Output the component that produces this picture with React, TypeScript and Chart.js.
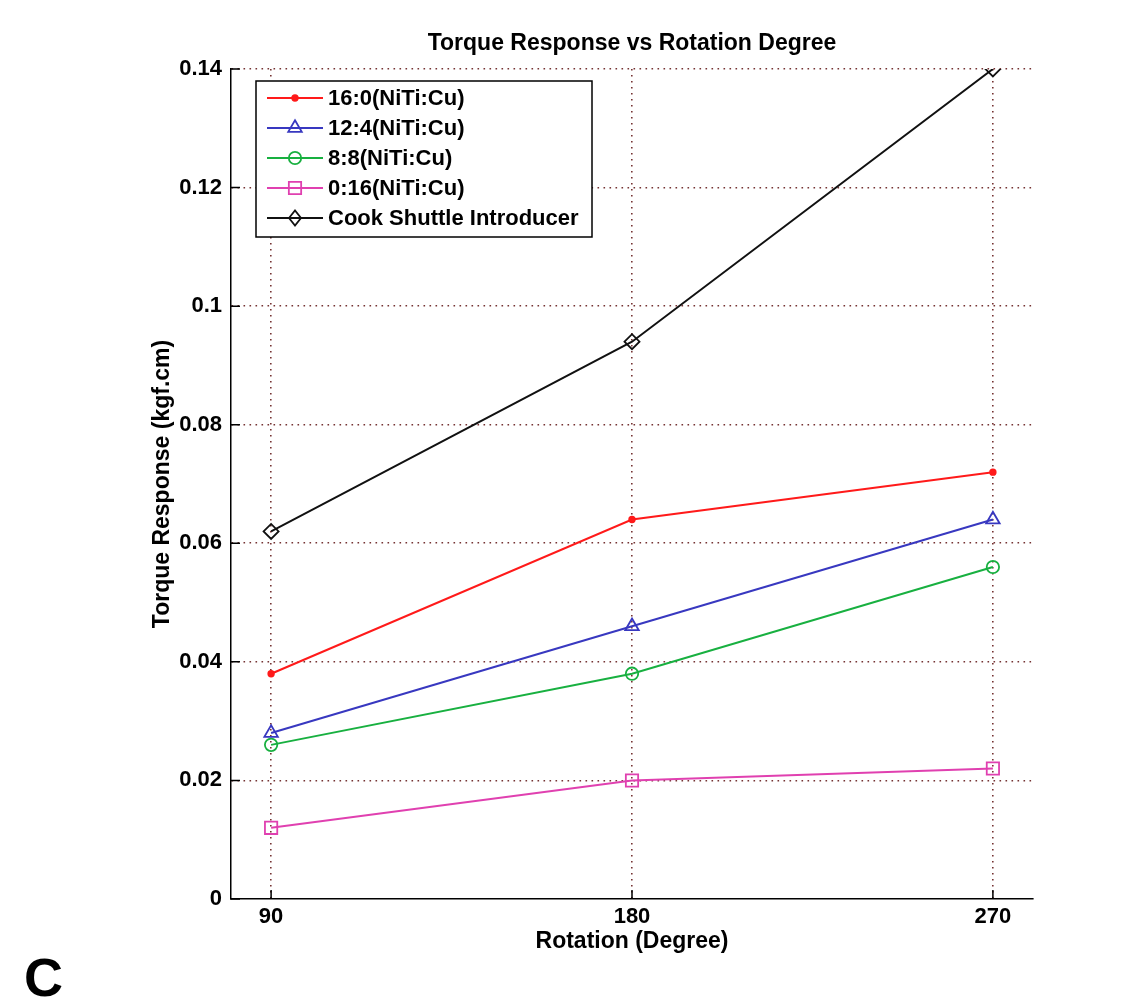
import React, { useEffect, useRef } from "react";
import { Chart, registerables } from "chart.js";

Chart.register(...registerables);

const rotations = [90, 180, 270];
const xTicks = [90, 180, 270];
const seriesLabels = [
  "16:0(NiTi:Cu)",
  "12:4(NiTi:Cu)",
  "8:8(NiTi:Cu)",
  "0:16(NiTi:Cu)",
  "Cook Shuttle Introducer",
];
const s16_0 = [0.038, 0.064, 0.072];
const s12_4 = [0.028, 0.046, 0.064];
const s8_8 = [0.026, 0.038, 0.056];
const s0_16 = [0.012, 0.02, 0.022];
const cook = [0.062, 0.094, 0.14];
const seriesValues = [s16_0, s12_4, s8_8, s0_16, cook];
const seriesColors = ["#ff1a1a", "#3838c0", "#18b040", "#e040b0", "#111111"];
const seriesMarkers = ["circle", "triangle", "circle", "rect", "rectRot"];
const seriesRadius = [2.8, 7.8, 6.2, 8.7, 7.5];
const seriesFilled = [true, false, false, false, false];

const FONT = "'Liberation Sans', Arial, sans-serif";
const GRID = "rgba(110,40,40,0.95)";

function drawMarker(ctx: CanvasRenderingContext2D, style: string, r: number, x: number, y: number, color: string, filled: boolean) {
  ctx.save();
  ctx.strokeStyle = color;
  ctx.fillStyle = color;
  ctx.lineWidth = 1.8;
  ctx.beginPath();
  if (style === "circle") {
    ctx.arc(x, y, r, 0, Math.PI * 2);
  } else if (style === "triangle") {
    for (let i = 0; i < 3; i++) {
      const a = (i * 2 * Math.PI) / 3;
      const px = x + Math.sin(a) * r;
      const py = y - Math.cos(a) * r;
      if (i === 0) ctx.moveTo(px, py);
      else ctx.lineTo(px, py);
    }
  } else if (style === "rect") {
    const s = Math.SQRT1_2 * r;
    ctx.rect(x - s, y - s, 2 * s, 2 * s);
  } else if (style === "rectRot") {
    ctx.moveTo(x - r * 0.8, y);
    ctx.lineTo(x, y - r);
    ctx.lineTo(x + r * 0.8, y);
    ctx.lineTo(x, y + r);
  }
  ctx.closePath();
  if (filled) ctx.fill();
  ctx.stroke();
  ctx.restore();
}

const decorPlugin = {
  id: "decor",
  afterDraw(chart: any) {
    const ctx: CanvasRenderingContext2D = chart.ctx;
    const xs = chart.scales.x;
    const ys = chart.scales.y;
    const area = chart.chartArea;
    ctx.save();
    // inner tick marks (MATLAB style)
    ctx.strokeStyle = "#000";
    ctx.lineWidth = 1.5;
    ctx.beginPath();
    xTicks.forEach((v) => {
      const px = xs.getPixelForValue(v);
      ctx.moveTo(px, area.bottom);
      ctx.lineTo(px, area.bottom - 9);
    });
    ys.ticks.forEach((t: any) => {
      const py = ys.getPixelForValue(t.value);
      ctx.moveTo(area.left, py);
      ctx.lineTo(area.left + 9, py);
    });
    ctx.stroke();

    // legend box
    const bx = 256, by = 81, bw = 336, bh = 156;
    ctx.fillStyle = "#fff";
    ctx.fillRect(bx, by, bw, bh);
    ctx.strokeStyle = "#000";
    ctx.lineWidth = 1.5;
    ctx.strokeRect(bx, by, bw, bh);
    ctx.font = `bold 22px ${FONT}`;
    ctx.textBaseline = "middle";
    ctx.textAlign = "left";
    seriesLabels.forEach((lab, i) => {
      const cy = by + 17 + i * 30;
      ctx.strokeStyle = seriesColors[i];
      ctx.lineWidth = 2;
      ctx.beginPath();
      ctx.moveTo(267, cy);
      ctx.lineTo(323, cy);
      ctx.stroke();
      drawMarker(ctx, seriesMarkers[i], seriesRadius[i], 295, cy, seriesColors[i], seriesFilled[i]);
      ctx.fillStyle = "#000";
      ctx.fillText(lab, 328, cy + 1);
    });

    // panel letter
    ctx.font = `bold 54px ${FONT}`;
    ctx.fillStyle = "#000";
    ctx.textBaseline = "alphabetic";
    ctx.fillText("C", 24, 996);
    ctx.restore();
  },
};

export default function App() {
  const ref = useRef<HTMLCanvasElement | null>(null);
  useEffect(() => {
    if (!ref.current) return;
    const datasets = seriesLabels.map((label, i) => ({
      label,
      data: rotations.map((r, j) => ({ x: r, y: seriesValues[i][j] })),
      borderColor: seriesColors[i],
      borderWidth: 2,
      pointStyle: seriesMarkers[i],
      pointRadius: seriesRadius[i],
      pointBorderWidth: 1.8,
      pointBorderColor: seriesColors[i],
      pointBackgroundColor: seriesFilled[i] ? seriesColors[i] : "rgba(0,0,0,0)",
      tension: 0,
      fill: false,
    }));
    const chart = new Chart(ref.current, {
      type: "line",
      data: { datasets },
      plugins: [decorPlugin],
      options: {
        animation: false,
        responsive: false,
        devicePixelRatio: 1,
        layout: { padding: { left: 0, right: 93, top: 30.2, bottom: 0 } },
        plugins: {
          legend: { display: false },
          tooltip: { enabled: false },
          title: {
            display: true,
            text: "Torque Response vs Rotation Degree",
            fullSize: false,
            color: "#000",
            font: { family: FONT, size: 23, weight: "bold" },
            padding: { top: 0, bottom: 11.2 },
          },
        },
        scales: {
          x: {
            type: "linear",
            min: 80,
            max: 280,
            afterBuildTicks: (scale: any) => {
              scale.ticks = xTicks.map((v) => ({ value: v }));
            },
            afterFit: (scale: any) => {
              scale.height = 105;
            },
            ticks: {
              color: "#000",
              font: { family: FONT, size: 22, weight: "bold" },
              padding: 5,
              maxRotation: 0,
              callback: (v: any) => String(v),
            },
            grid: {
              drawTicks: false,
              color: GRID,
              lineWidth: 1.6,
            },
            border: { display: true, color: "#000", width: 1.5, dash: [1.6, 4.4] },
            title: {
              display: true,
              text: "Rotation (Degree)",
              color: "#000",
              font: { family: FONT, size: 23, weight: "bold" },
              padding: { top: 0, bottom: 48.2 },
            },
          },
          y: {
            type: "linear",
            min: 0,
            max: 0.14,
            afterFit: (scale: any) => {
              scale.width = 231;
            },
            ticks: {
              stepSize: 0.02,
              color: "#000",
              font: { family: FONT, size: 22, weight: "bold" },
              padding: 9,
              callback: (v: any) => String(Number(Number(v).toFixed(2))),
            },
            grid: {
              drawTicks: false,
              color: (c: any) => (c.tick && c.tick.value === 0 ? "rgba(0,0,0,0)" : GRID),
              lineWidth: 1.6,
            },
            border: { display: true, color: "#000", width: 1.5, dash: [1.6, 4.4] },
            title: {
              display: true,
              text: "Torque Response (kgf.cm)",
              color: "#000",
              font: { family: FONT, size: 23, weight: "bold" },
              padding: { top: 149.2, bottom: 0 },
            },
          },
        },
      } as any,
    });
    return () => chart.destroy();
  }, []);
  return (
    <div style={{ position: "fixed", left: 0, top: 0, width: 1126, height: 1004, background: "#fff" }}>
      <canvas ref={ref} width={1126} height={1004} style={{ display: "block" }} />
    </div>
  );
}
